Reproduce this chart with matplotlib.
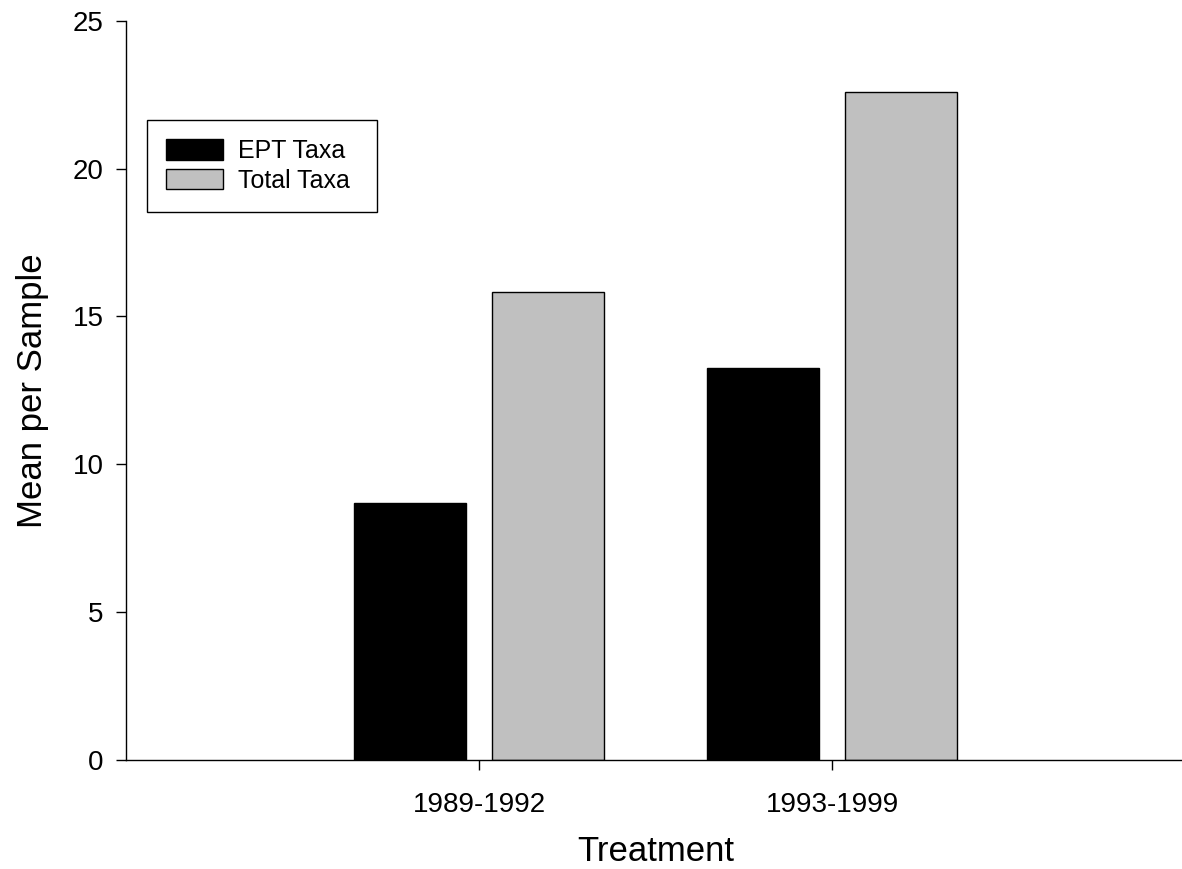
import matplotlib
matplotlib.use("Agg")
import matplotlib.pyplot as plt
import numpy as np

categories = ["1989-1992", "1993-1999"]
series_names = ["EPT Taxa", "Total Taxa"]
ept_taxa = [8.69, 13.24]
total_taxa = [15.81, 22.58]
y_ticks = [0, 5, 10, 15, 20, 25]

plt.rcParams['font.family'] = ['Liberation Sans', 'DejaVu Sans']

W, H = 1182, 869
fig = plt.figure(figsize=(W / 100, H / 100), dpi=100)
ax = fig.add_axes([126 / W, 1 - 760 / H, 1059 / W, (760 - 20.7) / H])

x = np.arange(1, len(categories) + 1)
bw = 0.316
off = 0.196
ax.bar(x - off, ept_taxa, bw, color='black', edgecolor='black', linewidth=1, label=series_names[0])
ax.bar(x + off, total_taxa, bw, color='#c0c0c0', edgecolor='black', linewidth=1, label=series_names[1])

ax.set_xlim(0, 3)
ax.set_ylim(0, 25)
ax.set_xticks(x)
ax.set_xticklabels(categories)
ax.set_yticks(y_ticks)

for s in ['top', 'right']:
    ax.spines[s].set_visible(False)
for s in ['left', 'bottom']:
    ax.spines[s].set_linewidth(1)

ax.tick_params(axis='both', direction='out', length=7.2, width=1, labelsize=20)
ax.tick_params(axis='y', pad=9)
ax.tick_params(axis='x', pad=16)

ax.set_xlabel("Treatment", fontsize=25, labelpad=12)
ax.set_ylabel("Mean per Sample", fontsize=25, labelpad=17)

leg = ax.legend(loc='upper left', bbox_to_anchor=(147 / W, 1 - 212 / H, 230 / W, 92 / H),
                bbox_transform=fig.transFigure, borderaxespad=0, mode='expand',
                fontsize=18, fancybox=False, shadow=False, framealpha=1,
                edgecolor='black', handlelength=2.28, handleheight=0.88,
                handletextpad=0.6, labelspacing=0.22, borderpad=0.76)
leg.get_frame().set_linewidth(1)

fig.savefig("out.png", dpi=100)
